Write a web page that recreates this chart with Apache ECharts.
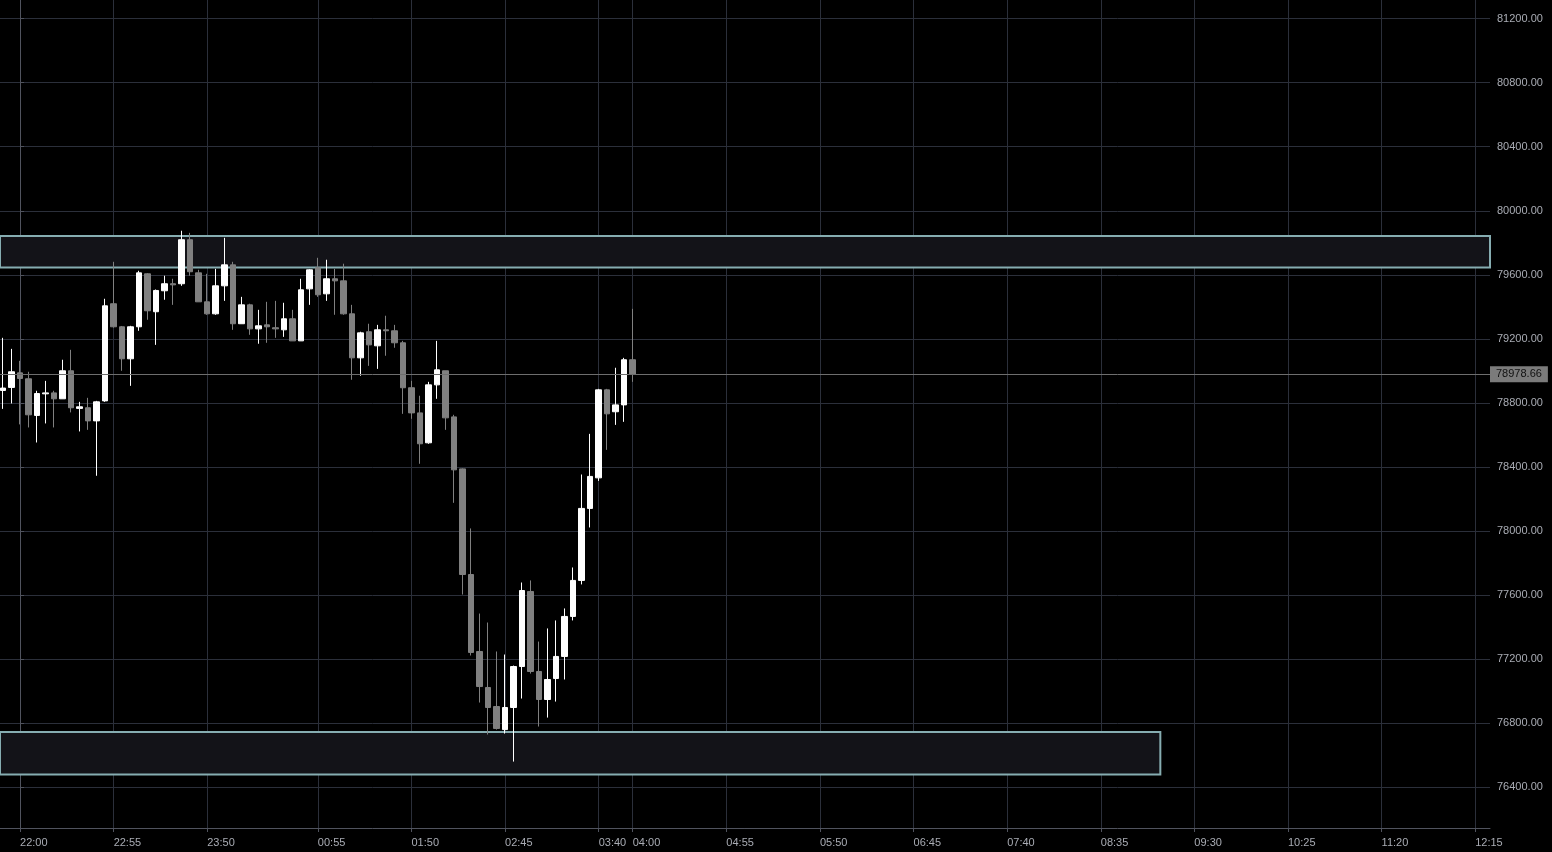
<!DOCTYPE html>
<html>
<head>
<meta charset="utf-8">
<script src="https://cdn.jsdelivr.net/npm/echarts@6/dist/echarts.min.js"></script>
<style>
html,body{margin:0;padding:0;background:#000;}
#chart{width:1552px;height:852px;}
</style>
</head>
<body>
<div id="chart"></div>
<script>
// 5-minute candles (time labels)
const times = ['21:50','21:55','22:00','22:05','22:10','22:15','22:20','22:25','22:30','22:35','22:40','22:45','22:50','22:55',
'23:00','23:05','23:10','23:15','23:20','23:25','23:30','23:35','23:40','23:45','23:50','23:55',
'00:00','00:05','00:10','00:15','00:20','00:25','00:30','00:35','00:40','00:45','00:50','00:55',
'01:00','01:05','01:10','01:15','01:20','01:25','01:30','01:35','01:40','01:45','01:50','01:55',
'02:00','02:05','02:10','02:15','02:20','02:25','02:30','02:35','02:40','02:45','02:50','02:55',
'03:00','03:05','03:10','03:15','03:20','03:25','03:30','03:35','03:40','03:45','03:50','03:55','04:00'];
const opens = [78877,78896,78987,78950,78721,78856,78862,78825,79000,78765,78769,78687,78812,79419,
79275,79075,79275,79606,79369,79500,79544,79544,79819,79612,79431,79356,
79531,79662,79294,79412,79262,79287,79269,79256,79325,79187,79512,79644,
79481,79575,79562,79356,79081,79244,79156,79256,79250,79175,78894,78737,
78550,78912,79000,78712,78387,77727,77246,77021,76902,76758,76896,77152,
77621,77121,76946,77077,77215,77465,77690,78140,78331,78881,78744,78787,79069];
const closes = [78892,78994,78952,78725,78858,78862,78825,79000,78769,78775,78687,78806,79406,79275,
79075,79275,79612,79375,79502,79544,79537,79819,79619,79431,79356,79531,
79662,79294,79412,79262,79281,79275,79262,79325,79187,79506,79631,79475,
79575,79562,79356,79081,79237,79162,79256,79250,79175,78894,78737,78544,
78912,79006,78706,78381,77727,77240,77027,76896,76765,76896,77152,77627,
77121,76946,77071,77215,77465,77690,78140,78340,78881,78731,78787,79069,78978.66];
const lows = [78762,78796,78665,78646,78552,78671,78646,78825,78740,78621,78631,78344,78806,79270,
79000,78906,79250,79319,79162,79444,79412,79531,79594,79431,79350,79350,
79437,79256,79294,79225,79169,79175,79206,79212,79187,79187,79412,79462,
79437,79350,79350,78944,78969,79031,79012,79094,79144,78731,78700,78419,
78544,78825,78631,78175,77602,77221,76927,76727,76758,76733,76558,76952,
77108,76777,76833,76933,77071,77440,77665,78021,78312,78506,78662,78681,78931];
const highs = [79206,79137,79062,78994,78875,78937,78875,79069,79131,78806,78831,78812,79450,79681,
79280,79281,79625,79610,79508,79594,79575,79875,79862,79631,79606,79637,
79831,79681,79462,79419,79381,79431,79437,79425,79381,79575,79635,79706,
79694,79637,79669,79412,79244,79294,79287,79344,79287,79187,78937,78844,
78931,79187,79000,78725,78390,78015,77483,77427,77246,77227,77158,77677,
77690,77308,77390,77440,77515,77771,78352,78606,78887,78887,79019,79081,79387];

const xTickLabels = ['22:00','22:55','23:50','00:55','01:50','02:45','03:40','04:00','04:55','05:50',
'06:45','07:40','08:35','09:30','10:25','11:20','12:15'];
const yTickLabels = [76400,76800,77200,77600,78000,78400,78800,79200,79600,80000,80400,80800,81200];

const lastPrice = 78978.66;
const resistanceZone = [79645, 79842];
const supportZone = [76477, 76743];
const supportZoneStart = '21:45';
const supportZoneEnd = '09:10';
const viewEnd = '12:24';

// slot index (5-minute steps) relative to 22:00, wrapping after midnight
function slot(t) {
  const p = t.split(':');
  let m = parseInt(p[0], 10) * 60 + parseInt(p[1], 10);
  if (m < 18 * 60) m += 24 * 60;
  return (m - 22 * 60) / 5;
}

const candleData = times.map((t, i) => [slot(t), opens[i], closes[i], lows[i], highs[i]]);
const xTickValues = xTickLabels.map(slot);
const labelBySlot = {};
xTickLabels.forEach(t => { labelBySlot[slot(t)] = t; });

const gridColor = '#2b2f3a';
const axisColor = '#50535e';
const textColor = '#a9acb4';
const font = 'Liberation Sans, Arial, sans-serif';

const chart = echarts.init(document.getElementById('chart'));
chart.setOption({
  backgroundColor: '#000000',
  animation: false,
  grid: { left: 0, right: 62, top: 0, bottom: 24, containLabel: false, outerBoundsMode: 'none' },
  xAxis: {
    type: 'value',
    min: -20 / 8.5,
    max: slot(viewEnd) - 0.06,
    axisLine: { show: true, lineStyle: { color: axisColor } },
    axisTick: { show: true, length: 4, customValues: xTickValues, lineStyle: { color: axisColor } },
    axisLabel: {
      customValues: xTickValues,
      formatter: v => labelBySlot[Math.round(v)] || '',
      color: textColor, fontFamily: font, fontSize: 11, align: 'left', margin: 9
    },
    splitLine: { show: true, lineStyle: { color: gridColor, width: 1 } }
  },
  yAxis: {
    type: 'value',
    position: 'right',
    min: 76143,
    max: 81317,
    scale: true,
    axisLine: { show: true, lineStyle: { color: axisColor } },
    axisTick: { show: true, length: 4, customValues: yTickLabels, lineStyle: { color: axisColor } },
    axisLabel: {
      customValues: yTickLabels,
      formatter: v => Number(v).toFixed(2),
      color: textColor, fontFamily: font, fontSize: 11, margin: 7
    },
    splitLine: { show: true, lineStyle: { color: gridColor, width: 1 } }
  },
  series: [{
    type: 'candlestick',
    data: candleData,
    encode: { x: 0, y: [1, 2, 3, 4] },
    barWidth: 6,
    clip: true,
    itemStyle: {
      color: '#ffffff', color0: '#808080',
      borderColor: '#ffffff', borderColor0: '#808080', borderWidth: 1
    },
    markArea: {
      silent: true,
      itemStyle: { color: '#131318', borderColor: '#86adb1', borderWidth: 2 },
      data: [
        [{ yAxis: resistanceZone[0] }, { yAxis: resistanceZone[1] }],
        [{ xAxis: slot(supportZoneStart), yAxis: supportZone[0] }, { xAxis: slot(supportZoneEnd), yAxis: supportZone[1] }]
      ]
    },
    markLine: {
      silent: true,
      symbol: ['none', 'none'],
      lineStyle: { color: '#6e6e6e', type: 'solid', width: 1 },
      label: {
        position: 'end', distance: 0,
        formatter: () => lastPrice.toFixed(2),
        backgroundColor: '#7b7b7b', color: '#111111',
        fontFamily: font, fontSize: 11, padding: [3, 6, 2, 6]
      },
      data: [{ yAxis: lastPrice }]
    }
  }]
});
</script>
</body>
</html>
